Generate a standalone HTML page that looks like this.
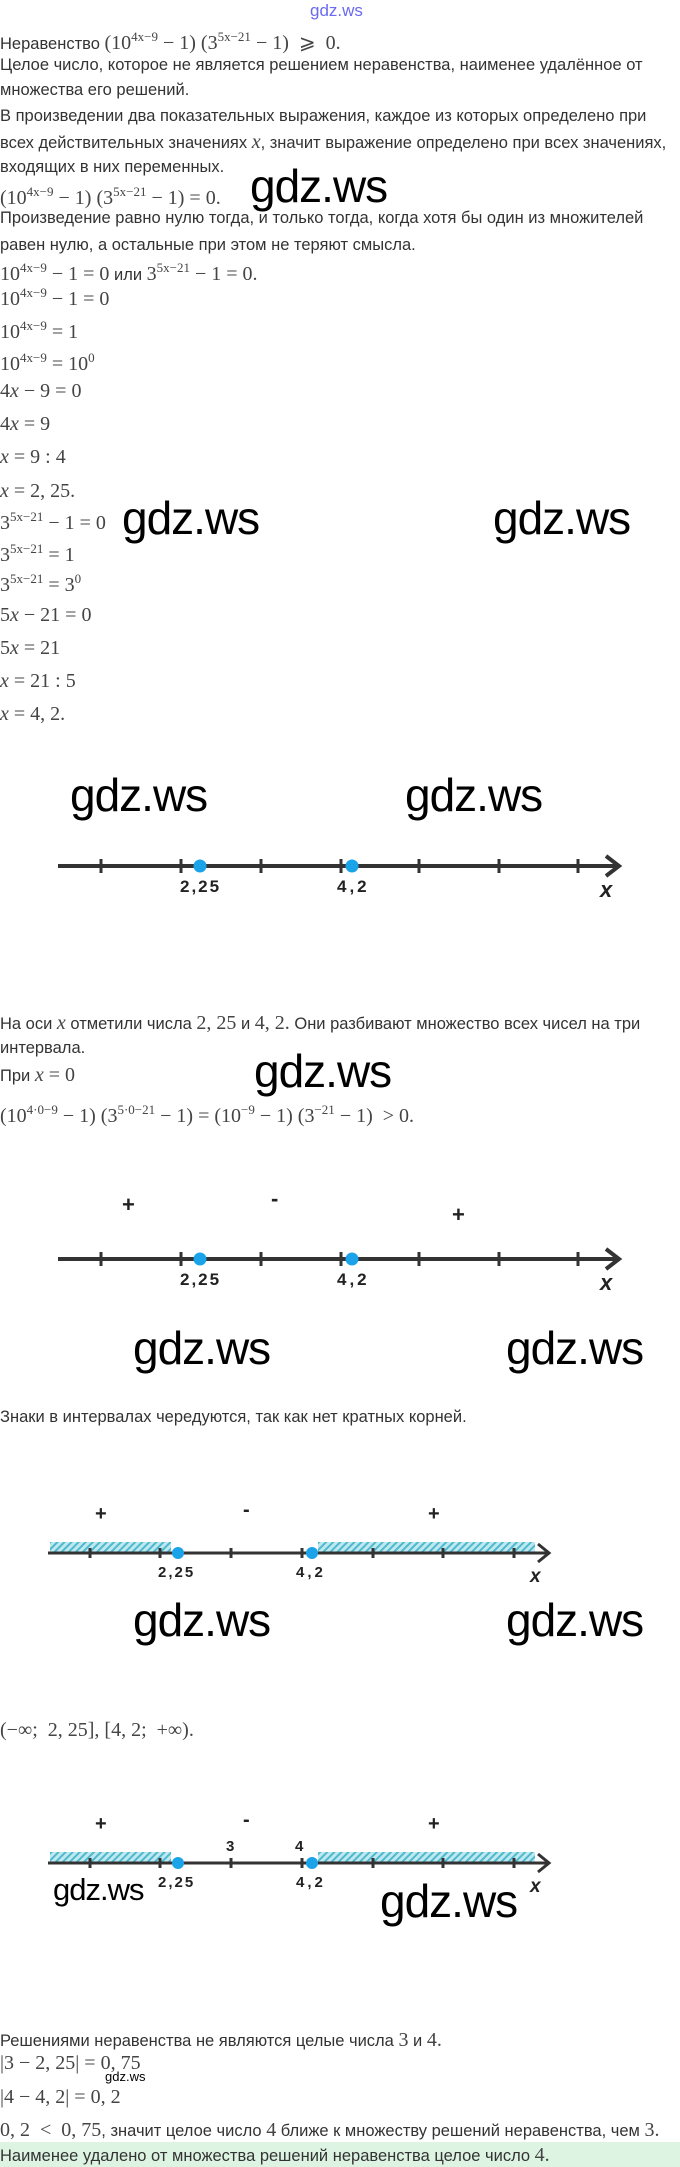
<!DOCTYPE html>
<html><head><meta charset="utf-8"><style>
body{margin:0;width:680px;height:2167px;background:#fff;position:relative;overflow:hidden;font-family:"Liberation Sans",sans-serif;color:#333}
.t{position:absolute;left:0;font-size:16.5px;white-space:nowrap;line-height:20px}
.m{font-family:"Liberation Serif",serif;font-size:20px;color:#444}
.w{position:absolute;font-family:"Liberation Sans",sans-serif;color:#000;font-size:46px;line-height:46px;letter-spacing:-1px}
sup{font-size:13px;vertical-align:8px}
svg{position:absolute;left:0;top:0}
</style></head><body>
<div class="w" style="left:310px;top:2px;font-size:17px;line-height:17px;color:#6a6af0;letter-spacing:0">gdz.ws</div>
<div class="t" style="top:27px">Неравенство <span class="m">(10<sup>4x−9</sup> − 1) (3<sup>5x−21</sup> − 1) &nbsp;⩾ &nbsp;0.</span></div>
<div class="t" style="top:55px">Целое число, которое не является решением неравенства, наименее удалённое от</div>
<div class="t" style="top:80px">множества его решений.</div>
<div class="t" style="top:106px">В произведении два показательных выражения, каждое из которых определено при</div>
<div class="t" style="top:132px">всех действительных значениях <span class="m"><i>x</i></span>, значит выражение определено при всех значениях,</div>
<div class="t" style="top:157px">входящих в них переменных.</div>
<div class="t m" style="top:182px">(10<sup>4x−9</sup> − 1) (3<sup>5x−21</sup> − 1) = 0.</div>
<div class="w" style="left:250px;top:163px">gdz.ws</div>
<div class="t" style="top:208px">Произведение равно нулю тогда, и только тогда, когда хотя бы один из множителей</div>
<div class="t" style="top:235px">равен нулю, а остальные при этом не теряют смысла.</div>
<div class="t" style="top:258px"><span class="m">10<sup>4x−9</sup> − 1 = 0</span> или <span class="m">3<sup>5x−21</sup> − 1 = 0.</span></div>
<div class="t m" style="top:283px">10<sup>4x−9</sup> − 1 = 0</div>
<div class="t m" style="top:316px">10<sup>4x−9</sup> = 1</div>
<div class="t m" style="top:348px">10<sup>4x−9</sup> = 10<sup>0</sup></div>
<div class="t m" style="top:381px">4<i>x</i> − 9 = 0</div>
<div class="t m" style="top:414px">4<i>x</i> = 9</div>
<div class="t m" style="top:447px"><i>x</i> = 9 : 4</div>
<div class="t m" style="top:481px"><i>x</i> = 2, 25.</div>
<div class="t m" style="top:507px">3<sup>5x−21</sup> − 1 = 0</div>
<div class="w" style="left:122px;top:495px">gdz.ws</div>
<div class="w" style="left:493px;top:495px">gdz.ws</div>
<div class="t m" style="top:539px">3<sup>5x−21</sup> = 1</div>
<div class="t m" style="top:569px">3<sup>5x−21</sup> = 3<sup>0</sup></div>
<div class="t m" style="top:605px">5<i>x</i> − 21 = 0</div>
<div class="t m" style="top:638px">5<i>x</i> = 21</div>
<div class="t m" style="top:671px"><i>x</i> = 21 : 5</div>
<div class="t m" style="top:704px"><i>x</i> = 4, 2.</div>
<div class="w" style="left:70px;top:772px">gdz.ws</div>
<div class="w" style="left:405px;top:772px">gdz.ws</div>
<div class="t" style="top:1013px">На оси <span class="m"><i>x</i></span> отметили числа <span class="m">2, 25</span> и <span class="m">4, 2.</span> Они разбивают множество всех чисел на три</div>
<div class="t" style="top:1038px">интервала.</div>
<div class="w" style="left:254px;top:1048px">gdz.ws</div>
<div class="t" style="top:1065px">При <span class="m"><i>x</i> = 0</span></div>
<div class="t m" style="top:1100px">(10<sup>4·0−9</sup> − 1) (3<sup>5·0−21</sup> − 1) = (10<sup>−9</sup> − 1) (3<sup>−21</sup> − 1) &nbsp;&gt; 0.</div>
<div class="w" style="left:133px;top:1325px">gdz.ws</div>
<div class="w" style="left:506px;top:1325px">gdz.ws</div>
<div class="t" style="top:1407px">Знаки в интервалах чередуются, так как нет кратных корней.</div>
<div class="w" style="left:133px;top:1597px">gdz.ws</div>
<div class="w" style="left:506px;top:1597px">gdz.ws</div>
<div class="t m" style="top:1720px">(−∞; &nbsp;2, 25], [4, 2; &nbsp;+∞).</div>
<div class="w" style="left:53px;top:1874px;font-size:31px;line-height:31px">gdz.ws</div>
<div class="w" style="left:380px;top:1878px">gdz.ws</div>
<div class="t" style="top:2030px">Решениями неравенства не являются целые числа <span class="m">3</span> и <span class="m">4.</span></div>
<div class="t m" style="top:2053px">|3 − 2, 25| = 0, 75</div>
<div class="w" style="left:105px;top:2070px;font-size:13px;line-height:13px;letter-spacing:0">gdz.ws</div>
<div class="t m" style="top:2087px">|4 − 4, 2| = 0, 2</div>
<div class="t" style="top:2120px"><span class="m">0, 2 &nbsp;&lt; &nbsp;0, 75</span>, значит целое число <span class="m">4</span> ближе к множеству решений неравенства, чем <span class="m">3.</span></div>
<div style="position:absolute;left:0;top:2142px;width:680px;height:25px;background:#ddf4e3"></div>
<div class="t" style="top:2145px">Наименее удалено от множества решений неравенства целое число <span class="m">4.</span></div>

<svg width="680" height="2167" xmlns="http://www.w3.org/2000/svg">
<defs>
<pattern id="h" width="5" height="5" patternUnits="userSpaceOnUse" patternTransform="rotate(45)">
<rect width="5" height="5" fill="#bfe9f0"/><rect width="2" height="5" fill="#4fb8cc"/></pattern>
</defs>
<g stroke="#333" fill="none" stroke-width="4">
<line x1="58" y1="866" x2="618" y2="866"/><polyline points="606,856 619,866 606,876"/>
<path d="M101 859v14M181 859v14M261 859v14M341 859v14M419 859v14M499 859v14M578 859v14" stroke-width="3"/>
</g>
<circle cx="200" cy="866" r="6.5" fill="#1aa3e8"/><circle cx="352" cy="866" r="6.5" fill="#1aa3e8"/>
<g font-family="Liberation Sans" font-weight="bold" fill="#222">
<text x="180" y="892" font-size="17" letter-spacing="2">2,25</text>
<text x="337" y="892" font-size="17" letter-spacing="3">4,2</text>
<text x="600" y="897" font-size="22" font-style="italic">x</text>
</g>
<g stroke="#333" fill="none" stroke-width="4">
<line x1="58" y1="1259" x2="618" y2="1259"/><polyline points="606,1249 619,1259 606,1269"/>
<path d="M101 1252v14M181 1252v14M261 1252v14M341 1252v14M419 1252v14M499 1252v14M578 1252v14" stroke-width="3"/>
</g>
<circle cx="200" cy="1259" r="6.5" fill="#1aa3e8"/><circle cx="352" cy="1259" r="6.5" fill="#1aa3e8"/>
<g font-family="Liberation Sans" font-weight="bold" fill="#222">
<text x="180" y="1285" font-size="17" letter-spacing="2">2,25</text>
<text x="337" y="1285" font-size="17" letter-spacing="3">4,2</text>
<text x="600" y="1290" font-size="22" font-style="italic">x</text>
<text x="122" y="1212" font-size="22">+</text>
<text x="271" y="1206" font-size="22">-</text>
<text x="452" y="1222" font-size="22">+</text>
</g>
<rect x="50" y="1542" width="121" height="10" fill="url(#h)"/>
<rect x="318" y="1542" width="217" height="10" fill="url(#h)"/>
<g stroke="#333" fill="none" stroke-width="3">
<line x1="48" y1="1553" x2="548" y2="1553"/><polyline points="538,1544 549,1553 538,1562"/>
<path d="M90 1548v10M160 1548v10M231 1548v10M302 1548v10M373 1548v10M443 1548v10M514 1548v10"/>
</g>
<circle cx="178" cy="1553" r="6" fill="#1aa3e8"/><circle cx="312" cy="1553" r="6" fill="#1aa3e8"/>
<g font-family="Liberation Sans" font-weight="bold" fill="#222">
<text x="158" y="1577" font-size="15" letter-spacing="2">2,25</text>
<text x="296" y="1577" font-size="15" letter-spacing="3">4,2</text>
<text x="530" y="1582" font-size="19" font-style="italic">x</text>
<text x="95" y="1520" font-size="20">+</text>
<text x="243" y="1516" font-size="20">-</text>
<text x="428" y="1520" font-size="20">+</text>
</g>
<rect x="50" y="1852" width="121" height="10" fill="url(#h)"/>
<rect x="318" y="1852" width="217" height="10" fill="url(#h)"/>
<g stroke="#333" fill="none" stroke-width="3">
<line x1="48" y1="1863" x2="548" y2="1863"/><polyline points="538,1854 549,1863 538,1872"/>
<path d="M90 1858v10M160 1858v10M231 1858v10M302 1858v10M373 1858v10M443 1858v10M514 1858v10"/>
</g>
<circle cx="178" cy="1863" r="6" fill="#1aa3e8"/><circle cx="312" cy="1863" r="6" fill="#1aa3e8"/>
<g font-family="Liberation Sans" font-weight="bold" fill="#222">
<text x="158" y="1887" font-size="15" letter-spacing="2">2,25</text>
<text x="296" y="1887" font-size="15" letter-spacing="3">4,2</text>
<text x="226" y="1851" font-size="15">3</text>
<text x="295" y="1851" font-size="15">4</text>
<text x="530" y="1892" font-size="19" font-style="italic">x</text>
<text x="95" y="1830" font-size="20">+</text>
<text x="243" y="1826" font-size="20">-</text>
<text x="428" y="1830" font-size="20">+</text>
</g>
</svg>
</body></html>
